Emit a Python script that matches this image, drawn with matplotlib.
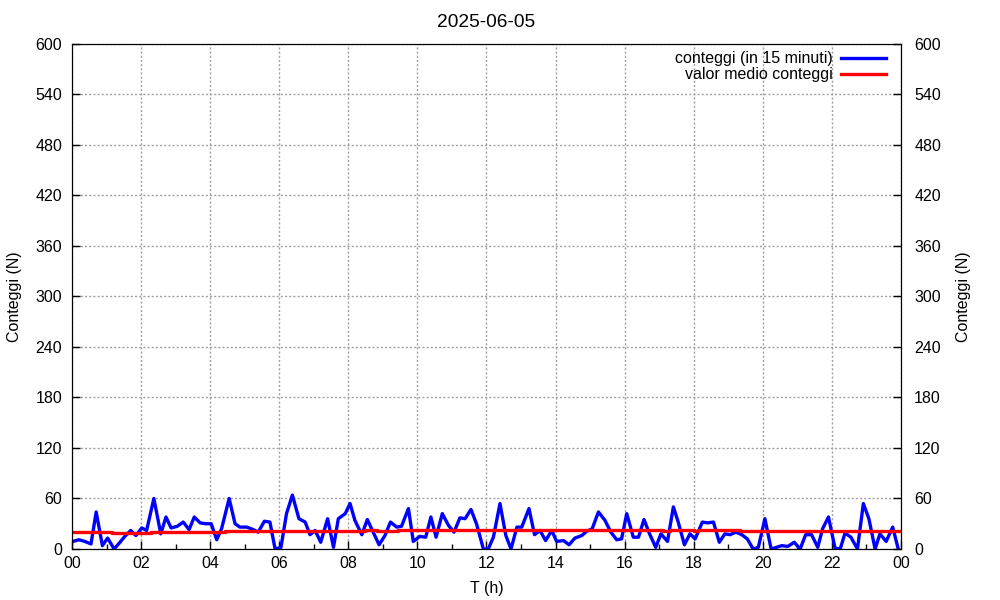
import numpy as np
import matplotlib
matplotlib.use('Agg')
import matplotlib.pyplot as plt
from matplotlib.ticker import MultipleLocator

plt.rcParams['font.family'] = ['Liberation Sans', 'DejaVu Sans']
plt.rcParams['font.size'] = 11.5

giorno = '2025-06-05'

# ore (h) e conteggi
ore = [0.03, 0.20, 0.37, 0.55, 0.70, 0.88, 1.03, 1.22, 1.39, 1.53, 1.70, 1.85,
       2.02, 2.16, 2.37, 2.57, 2.72, 2.87, 3.05, 3.22, 3.39, 3.54, 3.71, 3.87,
       4.03, 4.19, 4.33, 4.55, 4.72, 4.86, 5.06, 5.25, 5.39, 5.57, 5.73, 5.88,
       6.05, 6.21, 6.38, 6.57, 6.75, 6.89, 7.04, 7.20, 7.40, 7.57, 7.71, 7.91,
       8.05, 8.19, 8.39, 8.55, 8.72, 8.89, 9.06, 9.22, 9.40, 9.54, 9.74, 9.88,
       10.07, 10.24, 10.39, 10.54, 10.72, 10.90, 11.06, 11.23, 11.38, 11.55, 11.71, 11.91,
       12.05, 12.20, 12.39, 12.56, 12.71, 12.88, 13.02, 13.23, 13.39, 13.55, 13.71, 13.89,
       14.03, 14.23, 14.39, 14.56, 14.76, 14.90, 15.06, 15.24, 15.43, 15.60, 15.77, 15.91,
       16.06, 16.25, 16.40, 16.56, 16.72, 16.90, 17.05, 17.24, 17.41, 17.55, 17.73, 17.89,
       18.04, 18.25, 18.40, 18.57, 18.74, 18.90, 19.05, 19.22, 19.39, 19.55, 19.72, 19.87,
       20.06, 20.24, 20.40, 20.55, 20.72, 20.91, 21.08, 21.24, 21.41, 21.59, 21.73, 21.90,
       22.09, 22.24, 22.38, 22.55, 22.74, 22.91, 23.07, 23.25, 23.39, 23.57, 23.76, 23.92]
conteggi = [9, 11, 9, 6, 44, 4, 13, 0, 8, 15, 22, 16,
            25, 22, 60, 18, 38, 25, 27, 32, 23, 38, 31, 30,
            30, 11, 24, 60, 30, 26, 26, 23, 20, 33, 32, 0,
            2, 42, 64, 36, 32, 17, 22, 8, 36, 2, 36, 42,
            54, 34, 17, 35, 20, 5, 16, 32, 26, 27, 48, 9,
            15, 14, 38, 14, 42, 28, 20, 37, 36, 47, 30, 0,
            0, 14, 54, 16, 0, 26, 26, 48, 17, 22, 10, 22,
            9, 10, 5, 13, 16, 21, 24, 44, 34, 20, 11, 12,
            42, 14, 14, 35, 18, 2, 18, 9, 50, 32, 5, 18,
            12, 32, 31, 32, 8, 18, 17, 20, 17, 12, 0, 2,
            36, 0, 2, 4, 3, 8, 0, 17, 17, 2, 24, 38,
            1, 0, 19, 14, 0, 54, 36, 0, 18, 9, 26, 0]

# valor medio dei conteggi (a gradini)
ore_media = [0.0, 1.15, 2.30, 4.43, 8.48, 8.82, 9.45, 17.10, 17.30, 18.00, 18.13, 19.34, 23.94]
media = [20.2, 19.4, 20.4, 21.4, 22.2, 21.4, 22.6, 21.4, 22.6, 21.4, 22.6, 21.4, 21.4]

tick_ore = list(range(0, 25, 2))
tick_etichette = ['%02d' % (h % 24) for h in tick_ore]

fig = plt.figure(figsize=(10, 6), dpi=100)
ax = fig.add_axes([0.072, 0.085, 0.829, 0.842])

ax.plot(ore, conteggi, color='#0000ff', lw=2.4, label='conteggi (in 15 minuti)', zorder=3)
ax.plot(ore_media, media, color='#ff0000', lw=2.4, drawstyle='steps-post',
        label='valor medio conteggi', zorder=4)

ax.set_xlim(0, 24)
ax.set_ylim(0, 600)
ax.set_xticks(tick_ore)
ax.set_xticklabels(tick_etichette)
ax.xaxis.set_minor_locator(MultipleLocator(1))
ax.yaxis.set_major_locator(MultipleLocator(60))
ax.tick_params(which='major', direction='in', length=6, width=1, pad=5,
               top=False, right=True)
ax.tick_params(which='minor', direction='in', length=3.5, width=1, top=False, right=False)
ax.tick_params(axis='y', pad=7)
ax.grid(True, which='major', color='#a0a0a0', lw=1, linestyle=(0, (1.5, 1.5)))

ax2 = ax.twinx()
ax2.set_ylim(0, 600)
ax2.yaxis.set_major_locator(MultipleLocator(60))
ax2.tick_params(direction='in', length=6, width=1, pad=9.5)
ax2.set_ylabel('Conteggi (N)', labelpad=10.8)

ax.set_title(giorno, pad=12)
ax.set_xlabel('T (h)', labelpad=7)
ax.set_ylabel('Conteggi (N)', labelpad=9.8)

leg = ax.legend(loc='upper right', bbox_to_anchor=(0.982, 0.985), frameon=False,
                markerfirst=False, handlelength=2.8, handletextpad=0.55,
                labelspacing=0.05, borderpad=0, borderaxespad=0)

fig.savefig('out.png', dpi=100)
